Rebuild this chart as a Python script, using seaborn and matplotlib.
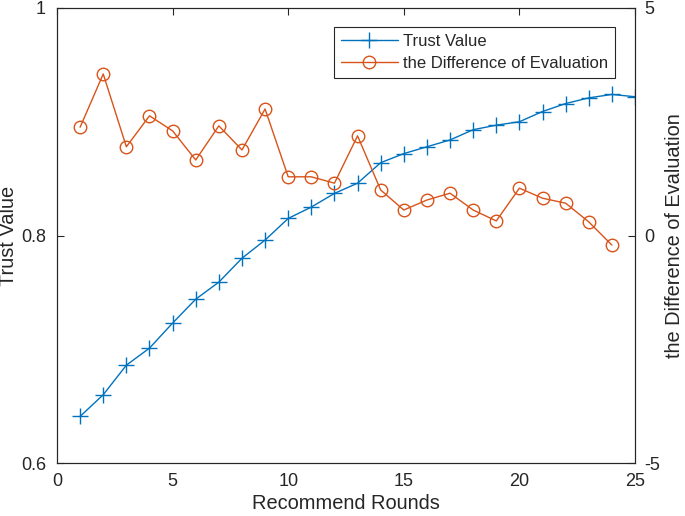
import matplotlib
matplotlib.use("Agg")
import matplotlib.pyplot as plt
import seaborn as sns
import pandas as pd

rounds_trust = list(range(1, 26))
trust_value = [0.641, 0.660, 0.686, 0.701, 0.723, 0.744, 0.759, 0.780, 0.796,
               0.815, 0.825, 0.837, 0.846, 0.864, 0.872, 0.878, 0.884, 0.893,
               0.897, 0.900, 0.909, 0.916, 0.921, 0.924, 0.922]
rounds_diff = list(range(1, 25))
diff_eval = [2.38, 3.55, 1.95, 2.63, 2.30, 1.66, 2.41, 1.88, 2.78, 1.29, 1.29,
             1.15, 2.19, 1.00, 0.56, 0.78, 0.93, 0.56, 0.32, 1.04, 0.82, 0.71,
             0.30, -0.21]
x_ticks = [0, 5, 10, 15, 20, 25]
left_ticks = [0.6, 0.8, 1.0]
left_labels = ["0.6", "0.8", "1"]
right_ticks = [-5, 0, 5]
right_labels = ["-5", "0", "5"]

sns.set_style("white")
plt.rcParams['font.family'] = ['Liberation Sans', 'DejaVu Sans']

blue = "#0072BD"
orange = "#D95319"
edge = "#262626"

fig = plt.figure(figsize=(6.85, 5.16), dpi=100)
ax = fig.add_axes([57/685, 1-463/516, (635-57)/685, (463-8)/516])
ax2 = ax.twinx()

df1 = pd.DataFrame({"x": rounds_trust, "y": trust_value})
df2 = pd.DataFrame({"x": rounds_diff, "y": diff_eval})

sns.lineplot(data=df1, x="x", y="y", ax=ax, color=blue, marker="+",
             markersize=11, markeredgewidth=1.0, markeredgecolor=blue,
             linewidth=1.0, label="Trust Value", legend=False)
sns.lineplot(data=df2, x="x", y="y", ax=ax2, color=orange, marker="o",
             markersize=9, markerfacecolor="none", markeredgecolor=orange,
             markeredgewidth=1.0, linewidth=1.0,
             label="the Difference of Evaluation", legend=False)

ax.set_xlim(0, 25)
ax.set_ylim(0.6, 1.0)
ax2.set_ylim(-5, 5)
ax.set_xticks(x_ticks)
ax.set_xticklabels([str(t) for t in x_ticks])
ax.set_yticks(left_ticks)
ax.set_yticklabels(left_labels)
ax2.set_yticks(right_ticks)
ax2.set_yticklabels(right_labels)

for a in (ax, ax2):
    for s in a.spines.values():
        s.set_color(edge)
        s.set_linewidth(0.8)
        s.set_visible(True)
ax.tick_params(axis='x', direction='in', length=5, top=True, labelsize=13,
               colors=edge, pad=7)
ax.tick_params(axis='y', direction='in', length=5, right=False, labelsize=13,
               colors=edge, pad=8)
ax2.tick_params(axis='y', direction='in', length=5, labelsize=13,
                colors=edge, pad=7)

ax.set_xlabel("Recommend Rounds", fontsize=14.4, color=edge, labelpad=3)
ax.set_ylabel("Trust Value", fontsize=14.4, color=edge, labelpad=2)
ax2.set_ylabel("the Difference of Evaluation", fontsize=14.4, color=edge, labelpad=3)

h1, l1 = ax.get_legend_handles_labels()
h2, l2 = ax2.get_legend_handles_labels()
leg = ax2.legend(h1 + h2, l1 + l2, loc="upper right",
                 bbox_to_anchor=(0.9654, 0.958), borderaxespad=0,
                 fontsize=12, frameon=True,
                 fancybox=False, edgecolor=edge, framealpha=1,
                 borderpad=0.4, handlelength=3.45, labelspacing=0.45,
                 handletextpad=0.3)
leg.get_frame().set_linewidth(0.8)

fig.savefig("out.png", dpi=100)
